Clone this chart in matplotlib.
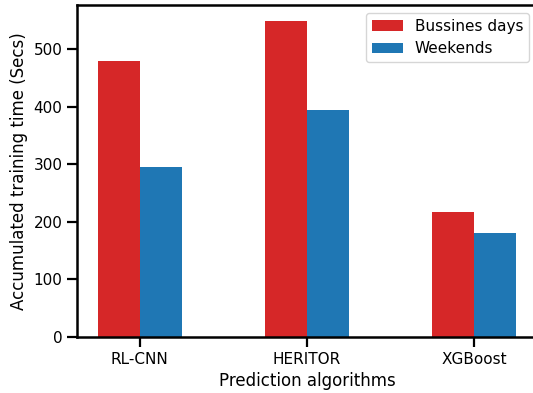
import matplotlib.pyplot as plt
import numpy as np

# values
algorithms = ["RL-CNN", "HERITOR", "XGBoost"]
business_days = [480, 550, 217]
weekends = [295, 395, 180]

fig = plt.figure(figsize=(5.33, 3.93), dpi=100)
# axes slightly wider than the figure: the right spine is cut off in the reference
ax = fig.add_axes([0.1445, 0.1425, 0.863, 0.845])

x = np.arange(len(algorithms))
width = 0.25
ax.bar(x - width / 2, business_days, width, color="#d62728", label="Bussines days")
ax.bar(x + width / 2, weekends, width, color="#1f77b4", label="Weekends")

ax.set_xticks(x)
ax.set_xticklabels(algorithms)
ax.set_yticks([0, 100, 200, 300, 400, 500])
ax.set_xlabel("Prediction algorithms", fontsize=12)
ax.set_ylabel("Accumulated training time (Secs)", fontsize=12)

ax.tick_params(axis="both", labelsize=11, length=7, width=1.6)
for spine in ax.spines.values():
    spine.set_linewidth(1.8)

ax.legend(loc="upper right", fontsize=11)

fig.savefig("out.png", dpi=100)
